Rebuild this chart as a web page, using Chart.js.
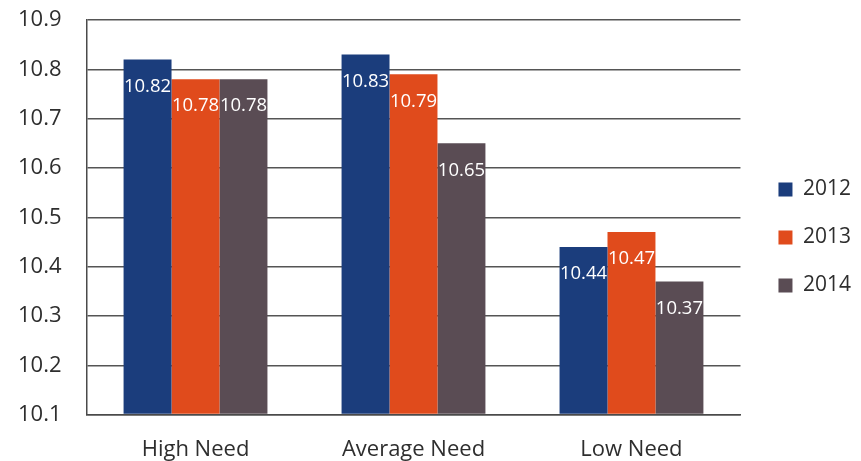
<!DOCTYPE html>
<html>
<head>
<meta charset="utf-8">
<script src="https://cdn.jsdelivr.net/npm/chart.js@4"></script>
<style>
html,body{margin:0;padding:0;background:#fff;}
#wrap{width:861px;height:461px;}
</style>
</head>
<body>
<div id="wrap"><canvas id="c" width="861" height="461"></canvas></div>
<script>
const categories = ["High Need", "Average Need", "Low Need"];
const seriesNames = ["2012", "2013", "2014"];
const values2012 = [10.82, 10.83, 10.44];
const values2013 = [10.78, 10.79, 10.47];
const values2014 = [10.78, 10.65, 10.37];
const yTicks = [10.1, 10.2, 10.3, 10.4, 10.5, 10.6, 10.7, 10.8, 10.9];

const colors = ["#1b3d7c", "#e04b1c", "#5a4c54"];
const FONT = "'Open Sans', sans-serif";

const labelPlugin = {
  id: 'barLabels',
  afterDatasetsDraw(chart) {
    const ctx = chart.ctx;
    ctx.save();
    ctx.font = "18.5px " + FONT;
    ctx.fillStyle = "#ffffff";
    ctx.textAlign = "center";
    ctx.textBaseline = "middle";
    chart.data.datasets.forEach((ds, i) => {
      const meta = chart.getDatasetMeta(i);
      meta.data.forEach((bar, j) => {
        ctx.fillText(ds.data[j].toFixed(2), bar.x, bar.y + 27);
      });
    });
    ctx.restore();
  }
};

new Chart(document.getElementById('c'), {
  type: 'bar',
  data: {
    labels: categories,
    datasets: [
      { label: seriesNames[0], data: values2012, backgroundColor: colors[0] },
      { label: seriesNames[1], data: values2013, backgroundColor: colors[1] },
      { label: seriesNames[2], data: values2014, backgroundColor: colors[2] }
    ]
  },
  options: {
    responsive: false,
    animation: false,
    devicePixelRatio: 1,
    layout: { padding: { top: -10, right: 0, left: -7, bottom: -24 } },
    datasets: { bar: { categoryPercentage: 0.66, barPercentage: 1.0, base: 10.1 } },
    plugins: {
      legend: {
        position: 'right',
        labels: {
          font: { size: 21, family: FONT },
          color: '#2e2e2e',
          boxWidth: 14,
          boxHeight: 14,
          padding: 27
        }
      },
      tooltip: { enabled: false }
    },
    scales: {
      x: {
        grid: { display: false, drawTicks: false },
        border: { display: true, color: '#4a4a4a', width: 1.5 },
        ticks: { font: { size: 22, family: FONT }, color: '#2e2e2e', padding: 22 }
      },
      y: {
        min: 10.1,
        max: 10.9,
        afterBuildTicks: (axis) => { axis.ticks = yTicks.map(v => ({ value: v })); },
        afterFit: (s) => { s.paddingTop = 20; s.paddingBottom = 0; },
        grid: { color: '#555555', lineWidth: 1.5, drawTicks: false },
        border: { display: true, color: '#4a4a4a', width: 1.5 },
        ticks: {
          font: { size: 22, family: FONT },
          color: '#2e2e2e',
          padding: 25,
          callback: (v) => Number(v).toFixed(1)
        }
      },
      spacer: {
        position: 'right',
        display: true,
        grid: { display: false, drawTicks: false },
        border: { display: false },
        ticks: { display: false },
        afterFit: (s) => { s.width = 11; }
      }
    }
  },
  plugins: [labelPlugin]
});
</script>
</body>
</html>
